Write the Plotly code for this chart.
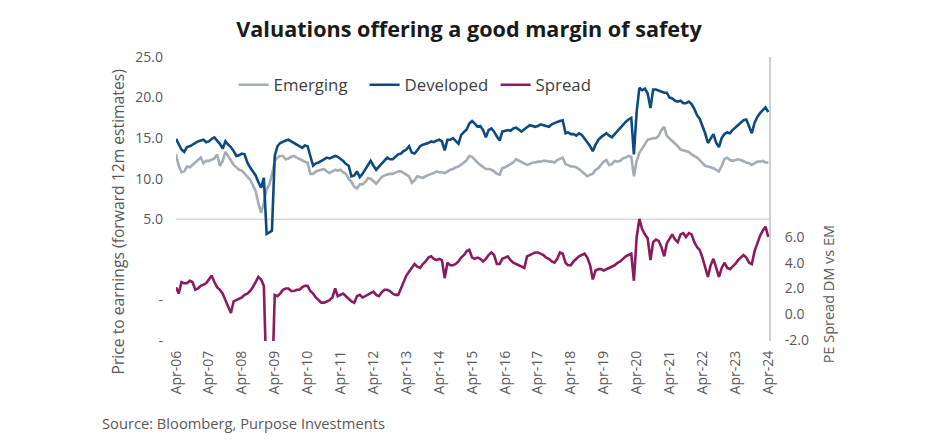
import pandas as pd
import plotly.graph_objects as go

# Monthly observations, Apr-2006 .. Apr-2024
dates = pd.date_range("2006-04-01", "2024-04-01", freq="MS")

developed = [
    14.9, 14.2, 13.6, 13.3, 13.9, 14.0, 14.2, 14.4, 14.6,
    14.7, 14.8, 14.5, 14.6, 14.9, 15.1, 14.7, 14.3, 13.7, 14.6, 14.2, 13.9,
    13.4, 12.8, 12.9, 13.1, 13.0, 12.0, 11.4, 10.9, 10.4, 9.6, 8.9, 10.1,
    3.2, 3.4, 3.6, 12.8, 14.0, 14.4, 14.6, 14.7, 14.8, 14.6, 14.4, 14.3,
    14.0, 13.8, 14.1, 14.0, 12.8, 11.6, 11.9, 12.0, 12.2, 12.4, 12.6, 12.5,
    12.7, 12.8, 12.7, 12.5, 12.2, 11.8, 11.6, 10.3, 10.4, 10.9, 10.2, 10.6,
    11.1, 11.7, 12.2, 11.6, 11.1, 11.5, 11.9, 12.2, 12.6, 12.4, 12.4, 12.7,
    13.0, 13.1, 13.4, 13.6, 14.0, 13.2, 13.1, 13.5, 14.0, 14.2, 14.3, 14.4,
    14.6, 14.5, 14.7, 14.8, 14.6, 13.5, 14.8, 14.8, 15.0, 14.7, 14.3, 15.4,
    15.7, 16.1, 16.8, 17.1, 16.8, 16.4, 16.5, 16.0, 15.1, 16.0, 16.2, 15.8,
    15.2, 14.7, 15.8, 15.9, 16.0, 15.9, 16.2, 16.3, 16.1, 15.8, 16.1, 16.4,
    16.6, 16.5, 16.4, 16.5, 16.7, 16.6, 16.5, 16.4, 16.7, 16.9, 17.0, 17.1,
    17.2, 15.6, 15.7, 15.5, 15.5, 15.3, 15.6, 15.4, 15.0, 14.5, 14.0, 13.4,
    14.2, 14.8, 15.1, 15.4, 15.6, 15.3, 15.1, 15.5, 15.9, 16.2, 16.6, 17.0,
    17.3, 17.5, 13.0, 18.3, 21.2, 20.9, 21.1, 20.5, 18.7, 21.0, 21.0, 20.9,
    20.7, 20.6, 20.6, 20.0, 19.9, 19.6, 19.5, 19.6, 19.3, 19.3, 19.5, 19.2,
    18.6, 17.8, 17.4, 16.6, 15.6, 14.4, 15.0, 15.5, 14.4, 13.9, 15.0, 15.5,
    15.7, 15.6, 16.0, 16.3, 16.5, 16.9, 17.2, 17.3, 16.4, 15.6, 16.9, 17.6,
    18.1, 18.5, 18.8, 18.2,
]

emerging = [
    13.0, 11.6, 10.8, 10.9, 11.5, 11.4, 11.7, 12.0, 12.3,
    12.6, 11.9, 12.2, 12.2, 12.3, 12.5, 13.0, 11.6, 12.2, 13.3, 12.8, 12.2,
    11.7, 11.4, 11.1, 11.0, 10.6, 10.3, 9.9, 9.2, 8.5, 7.0, 5.8, 7.0,
    8.7, 9.3, 10.5, 12.2, 12.6, 12.8, 12.8, 12.4, 12.5, 12.7, 12.8, 12.6,
    12.4, 12.2, 12.1, 12.0, 10.6, 10.6, 10.9, 11.0, 11.1, 11.2, 10.9, 10.7,
    10.9, 11.1, 11.0, 11.1, 10.8, 10.6, 10.0, 9.6, 9.0, 8.8, 9.3, 9.3,
    9.6, 10.1, 10.0, 9.7, 9.4, 9.8, 10.2, 10.4, 10.5, 10.6, 10.6, 10.7,
    10.9, 10.9, 10.7, 10.5, 10.3, 9.5, 9.8, 10.3, 10.2, 10.1, 10.3, 10.5,
    10.6, 10.7, 10.9, 10.8, 10.8, 10.7, 10.9, 11.1, 11.2, 11.4, 11.5, 11.7,
    12.0, 12.3, 12.8, 12.7, 12.3, 12.0, 11.7, 11.5, 11.2, 11.2, 11.1, 10.9,
    10.6, 10.5, 11.3, 11.4, 11.6, 11.7, 12.0, 12.4, 12.2, 12.0, 11.8, 11.7,
    11.8, 12.0, 12.0, 12.1, 12.1, 12.2, 12.2, 12.1, 12.1, 12.0, 12.3, 12.5,
    12.6, 11.8, 11.7, 11.5, 11.5, 11.4, 11.2, 10.9, 10.7, 10.3, 10.5, 10.6,
    11.1, 11.3, 11.7, 12.1, 12.3, 11.7, 11.8, 12.2, 12.1, 12.2, 12.5, 12.6,
    12.8, 12.7, 10.3, 12.2, 13.2, 13.8, 14.3, 14.8, 14.9, 15.0, 15.0, 15.3,
    16.0, 16.4, 15.3, 15.0, 14.7, 14.4, 14.0, 13.6, 13.5, 13.4, 13.3, 13.0,
    12.8, 12.6, 12.3, 11.9, 11.6, 11.5, 11.4, 11.3, 11.1, 10.9, 11.6, 12.4,
    12.6, 12.3, 12.2, 12.3, 12.4, 12.3, 12.1, 12.0, 11.9, 11.7, 11.9, 12.1,
    12.1, 12.2, 12.0, 12.0,
]

spread = [
    2.1, 1.6, 2.5, 2.4, 2.4, 2.6, 2.5, 1.9, 2.0,
    2.2, 2.3, 2.4, 2.7, 3.0, 2.5, 2.1, 1.9, 1.6, 1.1, 0.6, 0.1,
    1.0, 1.1, 1.2, 1.3, 1.5, 1.6, 1.8, 2.1, 2.5, 2.9, 2.7, 2.2,
    -5.5, -6.0, -6.0, 1.5, 1.4, 1.6, 1.9, 2.0, 2.0, 1.8, 1.8, 1.9,
    1.9, 2.1, 2.2, 2.2, 1.8, 1.6, 1.3, 1.1, 0.9, 0.9, 1.0, 1.1,
    1.3, 2.0, 1.4, 1.5, 1.6, 1.4, 1.2, 1.0, 0.9, 1.4, 1.5, 1.3,
    1.4, 1.5, 1.6, 1.75, 1.5, 1.4, 1.7, 1.9, 1.9, 1.8, 1.6, 1.5,
    1.5, 2.0, 2.5, 3.0, 3.3, 3.6, 3.9, 3.7, 3.6, 3.9, 4.1, 4.4,
    4.5, 4.3, 4.2, 4.3, 4.2, 2.8, 4.0, 3.8, 3.8, 3.9, 4.1, 4.4,
    4.6, 4.9, 5.0, 4.4, 4.3, 4.4, 4.3, 4.1, 4.3, 4.6, 4.8, 4.6,
    3.9, 3.9, 4.3, 4.4, 4.5, 4.2, 4.0, 3.9, 3.8, 3.7, 3.6, 4.5,
    4.6, 4.7, 4.8, 4.8, 4.7, 4.6, 4.4, 4.3, 4.1, 4.0, 4.3, 4.8,
    4.7, 4.0, 3.8, 3.8, 4.1, 4.3, 4.5, 4.6, 4.7, 4.4, 3.8, 2.7,
    3.4, 3.5, 3.5, 3.4, 3.5, 3.6, 3.7, 3.8, 4.0, 4.1, 4.3, 4.5,
    4.6, 4.7, 2.6, 6.0, 7.4, 6.6, 6.2, 5.9, 4.2, 5.6, 5.8, 5.7,
    5.2, 4.5, 5.5, 5.9, 6.2, 5.8, 5.6, 6.2, 6.3, 6.0, 6.3, 6.2,
    5.6, 5.2, 5.0, 4.4, 3.7, 2.9, 3.8, 4.3, 3.6, 2.9, 3.6, 4.0,
    3.6, 3.5, 3.7, 3.9, 4.2, 4.4, 4.6, 4.4, 4.0, 3.9, 4.9, 5.5,
    6.1, 6.5, 6.8, 6.0,
]

left_tickvals = [-10, -5, 5, 10, 15, 20, 25]
left_ticktext = ["-", "-", "5.0", "10.0", "15.0", "20.0", "25.0"]
right_tickvals = [-2, 0, 2, 4, 6]
right_ticktext = ["-2.0", "0.0", "2.0", "4.0", "6.0"]
x_tickvals = pd.date_range("2006-04-01", "2024-04-01", freq="12MS")
x_ticktext = [d.strftime("%b-%y") for d in x_tickvals]

FONT = "Open Sans"
GREY_TXT = "#595959"

fig = go.Figure()
fig.add_trace(go.Scatter(x=dates, y=emerging, name="Emerging", mode="lines",
                         line=dict(color="#A5ACB3", width=2.6)))
fig.add_trace(go.Scatter(x=dates, y=developed, name="Developed", mode="lines",
                         line=dict(color="#0D4A80", width=2.6)))
fig.add_trace(go.Scatter(x=dates, y=spread, name="Spread", mode="lines",
                         line=dict(color="#8A1B5F", width=2.6), yaxis="y2"))

fig.update_layout(
    width=938, height=446,
    margin=dict(l=176, r=168, t=57, b=105),
    paper_bgcolor="white", plot_bgcolor="white",
    font=dict(family=FONT, color=GREY_TXT, size=14),
    showlegend=True,
    legend=dict(orientation="h", x=0.097, y=0.902, xanchor="left", yanchor="middle",
                entrywidth=86, entrywidthmode="pixels",
                font=dict(size=16.8, color="#404040"), bgcolor="rgba(0,0,0,0)",
                itemwidth=30),
    title=dict(text="<b>Valuations offering a good margin of safety</b>",
               x=0.5, xanchor="center", y=0.935, yanchor="middle",
               font=dict(size=21.6, color="#1a1a1a", family=FONT)),
    xaxis=dict(type="date", range=["2006-04-01", "2024-04-20"], domain=[0, 1],
               tickvals=x_tickvals, ticktext=x_ticktext, tickangle=-90,
               showgrid=False, zeroline=False, showline=False, ticks="",
               ticklabelstandoff=6,
               tickfont=dict(size=14, color=GREY_TXT)),
    yaxis=dict(range=[-10, 25], tickvals=left_tickvals, ticktext=left_ticktext,
               showgrid=False, zeroline=False, showline=False, ticks="",
               ticklabelstandoff=12,
               tickfont=dict(size=14, color=GREY_TXT)),
    yaxis2=dict(range=[-2.08, 19.98], overlaying="y", side="right",
                anchor="free", position=1.0,
                tickvals=right_tickvals, ticktext=right_ticktext,
                showgrid=False, zeroline=False, showline=True,
                linecolor="#CFCFCF", linewidth=2, ticks="",
                ticklabelstandoff=11,
                tickfont=dict(size=14, color=GREY_TXT)),
    shapes=[dict(type="line", xref="paper", yref="y", x0=0, x1=1, y0=5, y1=5,
                 line=dict(color="#D9D9D9", width=1.5), layer="below")],
    annotations=[
        dict(text="Price to earnings (forward 12m estimates)", xref="paper", yref="paper",
             x=-0.098, y=0.42, textangle=-90, showarrow=False,
             xanchor="center", yanchor="middle", font=dict(size=15.7, color=GREY_TXT)),
        dict(text="PE Spread DM vs EM", xref="paper", yref="paper",
             x=1.098, y=0.165, textangle=-90, showarrow=False,
             xanchor="center", yanchor="middle", font=dict(size=14.5, color=GREY_TXT)),
        dict(text="Source: Bloomberg, Purpose Investments", xref="paper", yref="paper",
             x=-0.128, y=-0.29, showarrow=False, xanchor="left", yanchor="middle",
             font=dict(size=14.7, color=GREY_TXT)),
    ],
)

fig.write_html("out.html", config={"displayModeBar": False},
               post_script="document.body.style.margin='0';")
